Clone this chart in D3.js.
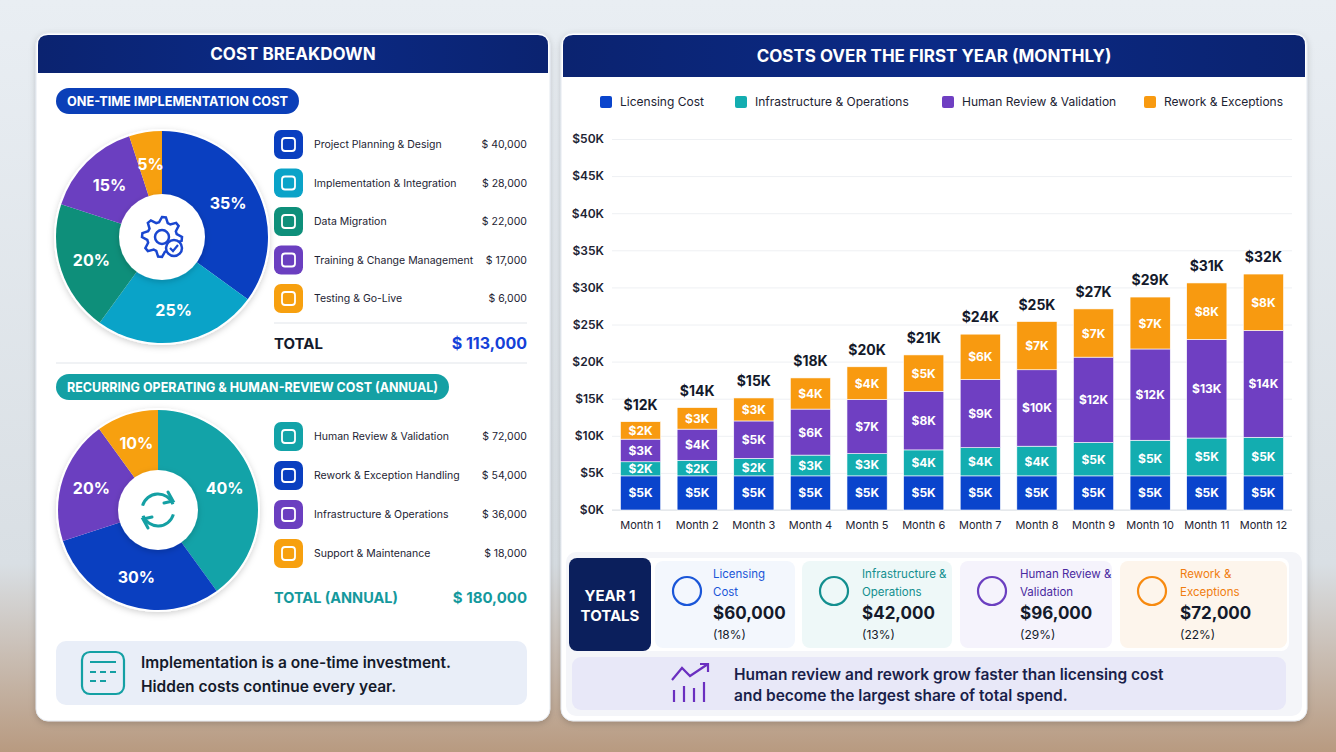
<!DOCTYPE html>
<html><head><meta charset="utf-8">
<script src="https://d3js.org/d3.v7.min.js"></script>
<style>
  body { margin: 0; background: #dfe6ee; }
  svg { display: block; font-family: Inter, "Noto Sans", sans-serif; }
</style></head>
<body>
<svg id="canvas" width="1336" height="752" viewBox="0 0 1336 752"></svg>
<script>
  // ---- data ----
  const oneTimeItems = ["Project Planning & Design", "Implementation & Integration", "Data Migration", "Training & Change Management", "Testing & Go-Live"];
  const oneTimeCosts = [40000, 28000, 22000, 17000, 6000];
  const oneTimeShares = [35, 25, 20, 15, 5];
  const recurringItems = ["Human Review & Validation", "Rework & Exception Handling", "Infrastructure & Operations", "Support & Maintenance"];
  const recurringCosts = [72000, 54000, 36000, 18000];
  const recurringShares = [40, 30, 20, 10];
  const months = ["Month 1","Month 2","Month 3","Month 4","Month 5","Month 6","Month 7","Month 8","Month 9","Month 10","Month 11","Month 12"];
  const seriesNames = ["Licensing Cost", "Infrastructure & Operations", "Human Review & Validation", "Rework & Exceptions"];
  const licensing = [4.6,4.6,4.6,4.6,4.6,4.6,4.6,4.6,4.6,4.6,4.6,4.6];
  const infra =     [1.9,2.1,2.35,2.8,3.0,3.5,3.8,4.0,4.5,4.8,5.1,5.2];
  const human =     [3.05,4.2,5.05,6.2,7.3,7.9,9.2,10.3,11.5,12.3,13.3,14.4];
  const rework =    [2.35,2.9,3.1,4.2,4.4,4.9,6.1,6.5,6.5,7.0,7.6,7.6];
  const segLabels = [
    [5,5,5,5,5,5,5,5,5,5,5,5],
    [2,2,2,3,3,4,4,4,5,5,5,5],
    [3,4,5,6,7,8,9,10,12,12,13,14],
    [2,3,3,4,4,5,6,7,7,7,8,8]
  ];
  const totalLabels = [12,14,15,18,20,21,24,25,27,29,31,32];
  const yTicks = [0,5,10,15,20,25,30,35,40,45,50];
  const yearTotals = [60000, 42000, 96000, 72000];
  const yearShares = [18, 13, 29, 22];

  const svg = d3.select("#canvas");
  const defs = svg.append("defs");

  // background
  const bg = defs.append("linearGradient").attr("id", "bg").attr("x1", 0).attr("y1", 0).attr("x2", 0).attr("y2", 1);
  bg.append("stop").attr("offset", 0).attr("stop-color", "#e9eef3");
  bg.append("stop").attr("offset", 0.75).attr("stop-color", "#d9dfe4");
  bg.append("stop").attr("offset", 1).attr("stop-color", "#b89a80");
  svg.append("rect").attr("width", 1336).attr("height", 752).attr("fill", "url(#bg)");

  const hdr = defs.append("linearGradient").attr("id", "hdr").attr("x1", 0).attr("y1", 0).attr("x2", 1).attr("y2", 0);
  hdr.append("stop").attr("offset", 0).attr("stop-color", "#0b2370");
  hdr.append("stop").attr("offset", 0.5).attr("stop-color", "#0b2a86");
  hdr.append("stop").attr("offset", 1).attr("stop-color", "#0b2370");
  const sh = defs.append("filter").attr("id", "sh").attr("x", -0.1).attr("y", -0.1).attr("width", 1.2).attr("height", 1.2);
  sh.append("feDropShadow").attr("dx", 0).attr("dy", 2).attr("stdDeviation", 3).attr("flood-opacity", 0.18);

  const oneColors = ["#0a3fc0", "#0aa3c8", "#0e8f7a", "#6b3fc0", "#f7a00f"];
  const recColors = ["#13a3a8", "#0a3fc0", "#6b3fc0", "#f7a00f"];
  const serColors = ["#0a44cc", "#13adb0", "#6f3fc2", "#f89a10"];

  function panel(x, y, w, h, title, hh) {
    svg.append("rect").attr("x", x).attr("y", y).attr("width", w).attr("height", h).attr("rx", 12)
      .attr("fill", "#fff").attr("stroke", "#e3e8ef").attr("filter", "url(#sh)");
    svg.append("path").attr("d", `M${x+2},${y+hh} L${x+2},${y+12} Q${x+2},${y+2} ${x+12},${y+2} L${x+w-12},${y+2} Q${x+w-2},${y+2} ${x+w-2},${y+12} L${x+w-2},${y+hh} Z`)
      .attr("fill", "url(#hdr)");
    svg.append("text").attr("x", x + w / 2).attr("y", y + hh / 2 + 7).attr("text-anchor", "middle")
      .attr("fill", "#fff").attr("font-size", 17).attr("font-weight", 700).text(title);
  }
  panel(36, 33, 514, 688, "COST BREAKDOWN", 40);
  panel(561, 33, 746, 688, "COSTS OVER THE FIRST YEAR (MONTHLY)", 44);

  // ---- left: pies ----
  function pill(x, y, w, text, color) {
    svg.append("rect").attr("x", x).attr("y", y).attr("width", w).attr("height", 26).attr("rx", 13).attr("fill", color);
    svg.append("text").attr("x", x + 11).attr("y", y + 18).attr("fill", "#fff").attr("font-size", 13.5).attr("font-weight", 700)
      .attr("textLength", w - 22).attr("lengthAdjust", "spacingAndGlyphs").text(text);
  }
  pill(56, 88, 243, "ONE-TIME IMPLEMENTATION COST", "#0b3fb8");
  pill(56, 374, 393, "RECURRING OPERATING & HUMAN-REVIEW COST (ANNUAL)", "#14a0a4");

  function pie(cx, cy, r, ri, shares, colors) {
    const g = svg.append("g").attr("transform", `translate(${cx},${cy})`);
    const arcs = d3.pie().sort(null)(shares);
    const arc = d3.arc().innerRadius(0).outerRadius(r);
    const lab = d3.arc().innerRadius(r * 0.7).outerRadius(r * 0.7);
    g.append("circle").attr("r", r + 2).attr("fill", "#fff").attr("filter", "url(#sh)");
    g.selectAll("path").data(arcs).join("path").attr("d", arc).attr("fill", (d, i) => colors[i]);
    g.append("circle").attr("r", ri).attr("fill", "#fff").attr("filter", "url(#sh)");
    g.selectAll("text").data(arcs).join("text")
      .attr("transform", d => `translate(${lab.centroid(d)})`).attr("dy", 6).attr("text-anchor", "middle")
      .attr("fill", "#fff").attr("font-size", 16).attr("font-weight", 700).text(d => d.data + "%");
    return g;
  }
  const p1 = pie(162, 237, 106, 43, oneTimeShares, oneColors);
  // gear icon
  const gear = p1.append("g").attr("fill", "none").attr("stroke", "#1a47d0").attr("stroke-width", 2.5);
  gear.append("path").attr("d", d3.lineRadial().curve(d3.curveLinearClosed)(
    d3.range(32).map(k => { const a = k * Math.PI / 16; const t = Math.floor(k / 2) % 2 === 0; return [a, t ? 20 : 15]; })));
  gear.append("circle").attr("r", 7);
  p1.append("circle").attr("cx", 12).attr("cy", 11).attr("r", 8).attr("fill", "#fff").attr("stroke", "#1a47d0").attr("stroke-width", 2.5);
  p1.append("path").attr("d", "M8,11 L11,14 L16,8").attr("fill", "none").attr("stroke", "#1a47d0").attr("stroke-width", 2.2);

  const p2 = pie(158, 510, 100, 40, recurringShares, recColors);
  const rc = p2.append("g").attr("fill", "none").attr("stroke", "#14a0a4").attr("stroke-width", 3).attr("stroke-linecap", "round");
  rc.append("path").attr("d", d3.arc().innerRadius(16).outerRadius(16).startAngle(-1.3).endAngle(1.2)());
  rc.append("path").attr("d", d3.arc().innerRadius(16).outerRadius(16).startAngle(1.85).endAngle(4.35)());
  rc.append("path").attr("d", "M10,-18 L15,-9 L6,-7");
  rc.append("path").attr("d", "M-10,18 L-15,9 L-6,7");

  // item lists
  function list(items, costs, colors, y0, step) {
    items.forEach((name, i) => {
      const y = y0 + i * step;
      svg.append("rect").attr("x", 274).attr("y", y - 14).attr("width", 29).attr("height", 29).attr("rx", 7).attr("fill", colors[i]);
      svg.append("rect").attr("x", 282).attr("y", y - 6).attr("width", 13).attr("height", 13).attr("rx", 3).attr("fill", "none").attr("stroke", "#fff").attr("stroke-width", 1.8);
      svg.append("text").attr("x", 314).attr("y", y + 4).attr("font-size", 10.5).attr("fill", "#1d2333").text(name);
      svg.append("text").attr("x", 527).attr("y", y + 4).attr("text-anchor", "end").attr("font-size", 10.5).attr("fill", "#1d2333")
        .text("$ " + d3.format(",")(costs[i]));
    });
  }
  list(oneTimeItems, oneTimeCosts, oneColors, 144, 38.5);
  list(recurringItems, recurringCosts, ["#13a3a8", "#0a3fc0", "#6b3fc0", "#f7a00f"], 436, 39);

  svg.append("line").attr("x1", 274).attr("x2", 527).attr("y1", 323).attr("y2", 323).attr("stroke", "#e1e5ea");
  svg.append("text").attr("x", 274).attr("y", 349).attr("font-size", 15).attr("font-weight", 700).attr("fill", "#141a2b").text("TOTAL");
  svg.append("text").attr("x", 527).attr("y", 349).attr("text-anchor", "end").attr("font-size", 16).attr("font-weight", 700).attr("fill", "#1440d8").text("$ 113,000");
  svg.append("line").attr("x1", 56).attr("x2", 527).attr("y1", 363).attr("y2", 363).attr("stroke", "#e1e5ea");
  svg.append("text").attr("x", 274).attr("y", 603).attr("font-size", 14.5).attr("font-weight", 700).attr("fill", "#14999d").text("TOTAL (ANNUAL)");
  svg.append("text").attr("x", 527).attr("y", 603).attr("text-anchor", "end").attr("font-size", 15).attr("font-weight", 700).attr("fill", "#14999d").text("$ 180,000");

  svg.append("rect").attr("x", 56).attr("y", 641).attr("width", 471).attr("height", 64).attr("rx", 10).attr("fill", "#e9eef8");
  svg.append("rect").attr("x", 82).attr("y", 652).attr("width", 42).attr("height", 42).attr("rx", 8).attr("fill", "none").attr("stroke", "#14a0a4").attr("stroke-width", 2.2);
  svg.append("path").attr("d", "M90,662 L116,662 M90,672 L96,672 M100,672 L106,672 M110,672 L116,672 M90,681 L96,681 M100,681 L106,681")
    .attr("stroke", "#14a0a4").attr("stroke-width", 2.2);
  svg.append("text").attr("x", 141).attr("y", 668).attr("font-size", 15.5).attr("font-weight", 600).attr("fill", "#141a2b").text("Implementation is a one-time investment.");
  svg.append("text").attr("x", 141).attr("y", 692).attr("font-size", 15.5).attr("font-weight", 600).attr("fill", "#141a2b").text("Hidden costs continue every year.");

  // ---- right: stacked bars ----
  svg.append("rect").attr("x", 564).attr("y", 78).attr("width", 740).attr("height", 468).attr("fill", "#fff");
  const legX = [600, 735, 942, 1144];
  seriesNames.forEach((n, i) => {
    svg.append("rect").attr("x", legX[i]).attr("y", 96).attr("width", 12).attr("height", 12).attr("rx", 2).attr("fill", serColors[i]);
    svg.append("text").attr("x", legX[i] + 20).attr("y", 106).attr("font-size", 12).attr("fill", "#1d2333").text(n);
  });

  const x = d3.scaleBand().domain(months).range([612, 1292]).paddingInner(0.29).paddingOuter(0.15);
  const y = d3.scaleLinear().domain([0, 50]).range([510, 139]);
  const gy = svg.append("g").attr("transform", "translate(612,0)")
    .call(d3.axisLeft(y).tickValues(yTicks).tickSize(-680).tickFormat(d => "$" + d + "K"));
  gy.select(".domain").remove();
  gy.selectAll(".tick line").attr("stroke", "#eef0f3");
  gy.selectAll(".tick text").attr("x", -8).attr("font-size", 12).attr("font-weight", 600).attr("fill", "#1d2333").attr("font-family", "Inter");
  svg.append("line").attr("x1", 612).attr("x2", 1292).attr("y1", 510).attr("y2", 510).attr("stroke", "#dde1e6");
  const gx = svg.append("g").attr("transform", "translate(0,510)").call(d3.axisBottom(x).tickSize(0));
  gx.select(".domain").remove();
  gx.selectAll(".tick text").attr("dy", 16).attr("font-size", 11).attr("fill", "#1d2333").attr("font-family", "Inter");

  const rows = months.map((m, i) => ({ month: m, s0: licensing[i], s1: infra[i], s2: human[i], s3: rework[i] }));
  const stack = d3.stack().keys(["s0", "s1", "s2", "s3"])(rows);
  stack.forEach((layer, li) => {
    const g = svg.append("g");
    g.selectAll("rect").data(layer).join("rect")
      .attr("x", d => x(d.data.month)).attr("width", x.bandwidth())
      .attr("y", d => y(d[1])).attr("height", d => y(d[0]) - y(d[1]))
      .attr("fill", serColors[li]).attr("stroke", "#fff").attr("stroke-width", 0.6);
    g.selectAll("text").data(layer).join("text")
      .attr("x", d => x(d.data.month) + x.bandwidth() / 2).attr("y", d => (y(d[0]) + y(d[1])) / 2 + 4.5)
      .attr("text-anchor", "middle").attr("fill", "#fff").attr("font-size", 12).attr("font-weight", 700)
      .text((d, i) => "$" + segLabels[li][i] + "K");
  });
  svg.append("g").selectAll("text").data(stack[3]).join("text")
    .attr("x", d => x(d.data.month) + x.bandwidth() / 2).attr("y", d => y(d[1]) - 12)
    .attr("text-anchor", "middle").attr("fill", "#141a2b").attr("font-size", 14).attr("font-weight", 700)
    .text((d, i) => "$" + totalLabels[i] + "K");

  // ---- year totals ----
  svg.append("rect").attr("x", 566).attr("y", 552).attr("width", 736).attr("height", 164).attr("rx", 10).attr("fill", "#f4f5f9");
  svg.append("rect").attr("x", 569).attr("y", 558).attr("width", 720).attr("height", 93).attr("rx", 8).attr("fill", "#fff");
  svg.append("rect").attr("x", 569).attr("y", 558).attr("width", 82).attr("height", 93).attr("rx", 8).attr("fill", "#0b1f5c");
  svg.append("text").attr("x", 610).attr("y", 601).attr("text-anchor", "middle").attr("fill", "#fff").attr("font-size", 15).attr("font-weight", 700).text("YEAR 1");
  svg.append("text").attr("x", 610).attr("y", 621).attr("text-anchor", "middle").attr("fill", "#fff").attr("font-size", 15).attr("font-weight", 700).text("TOTALS");
  const cardX = [655, 802, 960, 1120], cardW = [140, 150, 152, 167];
  const cardBg = ["#f3f7fd", "#eef8f8", "#f5f3fc", "#fdf5ec"];
  const cardTxt = ["#1a56d8", "#138f8f", "#4a2aa0", "#f07d10"];
  const cardLbl = [["Licensing", "Cost"], ["Infrastructure &", "Operations"], ["Human Review &", "Validation"], ["Rework &", "Exceptions"]];
  const iconCol = ["#1a56d8", "#138f8f", "#6b3fc0", "#f78a10"];
  cardX.forEach((cx, i) => {
    svg.append("rect").attr("x", cx).attr("y", 561).attr("width", cardW[i]).attr("height", 87).attr("rx", 8).attr("fill", cardBg[i]);
    svg.append("circle").attr("cx", cx + 32).attr("cy", 591).attr("r", 14).attr("fill", "none").attr("stroke", iconCol[i]).attr("stroke-width", 2.2);
    const tx = cx + (i === 0 ? 58 : 60);
    cardLbl[i].forEach((l, k) => svg.append("text").attr("x", tx).attr("y", 578 + k * 18).attr("font-size", 11.5).attr("fill", cardTxt[i]).text(l));
    svg.append("text").attr("x", tx).attr("y", 619).attr("font-size", 17).attr("font-weight", 700).attr("fill", "#141a2b").text("$" + d3.format(",")(yearTotals[i]));
    svg.append("text").attr("x", tx).attr("y", 639).attr("font-size", 12).attr("fill", "#141a2b").text("(" + yearShares[i] + "%)");
  });
  svg.append("rect").attr("x", 572).attr("y", 657).attr("width", 714).attr("height", 53).attr("rx", 9).attr("fill", "#e8e8f8");
  svg.append("path").attr("d", "M672,680 L682,668 L690,676 L708,664 M700,664 L708,664 L708,672 M674,702 L674,690 M684,702 L684,686 M694,702 L694,688 M704,702 L704,682")
    .attr("fill", "none").attr("stroke", "#6b2fc0").attr("stroke-width", 2.2);
  svg.append("text").attr("x", 734).attr("y", 680).attr("font-size", 15.5).attr("font-weight", 600).attr("fill", "#1a1f4a").text("Human review and rework grow faster than licensing cost");
  svg.append("text").attr("x", 734).attr("y", 701).attr("font-size", 15.5).attr("font-weight", 600).attr("fill", "#1a1f4a").text("and become the largest share of total spend.");
</script>
</body></html>
